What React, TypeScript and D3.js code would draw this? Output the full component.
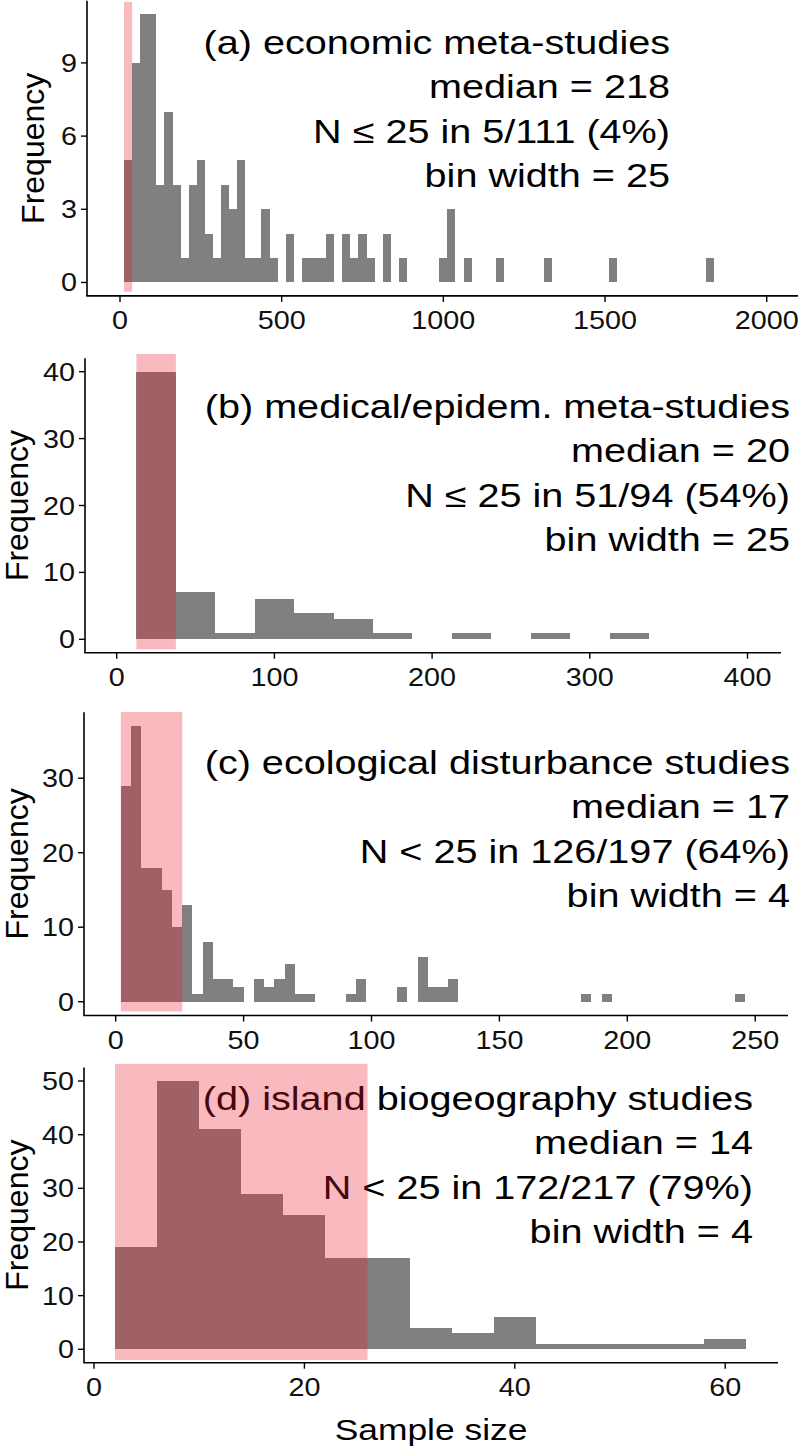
import * as d3 from "d3";

// histogram counts, one per bin
const countsA = [
  5, 9, 11, 11, 4, 7, 4, 1, 4, 5,
  2, 1, 4, 3, 5, 1, 1, 3, 1, 0,
  2, 0, 1, 1, 1, 2, 0, 2, 1, 2,
  1, 0, 2, 0, 1, 0, 0, 0, 0, 1,
  3, 0, 1, 0, 0, 0, 1, 0, 0, 0,
  0, 0, 1, 0, 0, 0, 0, 0, 0, 0,
  1, 0, 0, 0, 0, 0, 0, 0, 0, 0,
  0, 0, 1,
];
const countsB = [40, 7, 1, 6, 4, 3, 1, 0, 1, 0, 1, 0, 1];
const countsC = [
  29, 37, 18, 18, 15, 10, 13, 1, 8, 3,
  3, 2, 0, 3, 2, 3, 5, 1, 1, 0,
  0, 0, 1, 3, 0, 0, 0, 2, 0, 6,
  2, 2, 3, 0, 0, 0, 0, 0, 0, 0,
  0, 0, 0, 0, 0, 1, 0, 1, 0, 0,
  0, 0, 0, 0, 0, 0, 0, 0, 0, 0,
  1,
];
const countsD = [19, 50, 41, 29, 25, 17, 17, 4, 3, 6, 1, 1, 1, 1, 2];

const binStart = [12.5, 12.5, 2, 2];
const binWidth = [25, 25, 4, 4];

// shaded "small sample" region [xmin, xmax, ymin, ymax]
const shadeA = [12.5, 37.5, -0.38, 11.5];
const shadeB = [12.5, 37.5, -1.49, 42.65];
const shadeC = [2, 26, -1.3, 38.9];
const shadeD = [2, 26, -2.0, 53.2];

const xTicksA = [0, 500, 1000, 1500, 2000];
const xTicksB = [0, 100, 200, 300, 400];
const xTicksC = [0, 50, 100, 150, 200, 250];
const xTicksD = [0, 20, 40, 60];
const yTicksA = [0, 3, 6, 9];
const yTicksB = [0, 10, 20, 30, 40];
const yTicksC = [0, 10, 20, 30];
const yTicksD = [0, 10, 20, 30, 40, 50];

const labelsA = ["(a) economic meta-studies", "median = 218", "N \u2264 25 in 5/111 (4%)", "bin width = 25"];
const labelsB = ["(b) medical/epidem. meta-studies", "median = 20", "N \u2264 25 in 51/94 (54%)", "bin width = 25"];
const labelsC = ["(c) ecological disturbance studies", "median = 17", "N < 25 in 126/197 (64%)", "bin width = 4"];
const labelsD = ["(d) island biogeography studies", "median = 14", "N < 25 in 172/217 (79%)", "bin width = 4"];

const FONT = "'Liberation Sans', Arial, sans-serif";
const SX = 1.2; // text in the figure is drawn a bit wide

// layout per panel (pixels)
const panels = [
  { counts: countsA, shade: shadeA, xTicks: xTicksA, yTicks: yTicksA, labels: labelsA,
    top: 0.7, bottom: 295.9, yDom: [-0.55, 11.55], xDom: [0, 2000], xRange: [120, 766.7],
    axisX: 87, axisRight: 798, textRight: 670, textTop: 54, freqX: 44 },
  { counts: countsB, shade: shadeB, xTicks: xTicksB, yTicks: yTicksB, labels: labelsB,
    top: 358.3, bottom: 652.7, yDom: [-2, 42], xDom: [0, 400], xRange: [116.7, 747.5],
    axisX: 85, axisRight: 781, textRight: 790, textTop: 418, freqX: 28 },
  { counts: countsC, shade: shadeC, xTicks: xTicksC, yTicks: yTicksC, labels: labelsC,
    top: 712.3, bottom: 1015.5, yDom: [-1.85, 38.85], xDom: [0, 250], xRange: [115.7, 755.2],
    axisX: 84, axisRight: 788, textRight: 790, textTop: 774, freqX: 28 },
  { counts: countsD, shade: shadeD, xTicks: xTicksD, yTicks: yTicksD, labels: labelsD,
    top: 1067.6, bottom: 1362.7, yDom: [-2.5, 52.5], xDom: [0, 60], xRange: [94, 725.2],
    axisX: 84, axisRight: 778, textRight: 753, textTop: 1110, freqX: 28 },
];

function Panel({ p, i }) {
  const x = d3.scaleLinear().domain(p.xDom).range(p.xRange);
  const y = d3.scaleLinear().domain(p.yDom).range([p.bottom, p.top]);
  const bins = p.counts.map((c, k) => ({
    x0: binStart[i] + k * binWidth[i],
    x1: binStart[i] + (k + 1) * binWidth[i],
    c,
  }));
  const [sx0, sx1, sy0, sy1] = p.shade;
  const midY = (p.top + p.bottom) / 2;

  return (
    <g>
      <g shapeRendering="crispEdges">
        {bins.filter((b) => b.c > 0).map((b, k) => (
          <rect key={k} x={x(b.x0)} y={y(b.c)} width={x(b.x1) - x(b.x0)}
            height={y(0) - y(b.c)} fill="#808080" />
        ))}
      </g>

      {p.labels.map((t, k) => (
        <text key={k} transform={`translate(${p.textRight},${p.textTop + k * 44.4}) scale(${SX},1)`}
          textAnchor="end" fontSize={33} fontFamily={FONT} fill="#000">{t}</text>
      ))}

      <rect x={x(sx0)} y={y(sy1)} width={x(sx1) - x(sx0)} height={y(sy0) - y(sy1)}
        fill="#e8182a" fillOpacity={0.3} />

      {/* axes */}
      <line x1={p.axisX} x2={p.axisX} y1={p.top} y2={p.bottom} stroke="#000" strokeWidth={1.6} />
      <line x1={p.axisX - 0.8} x2={p.axisRight} y1={p.bottom} y2={p.bottom} stroke="#000" strokeWidth={1.6} />
      {p.yTicks.map((t) => (
        <g key={"y" + t}>
          <line x1={p.axisX - 6} x2={p.axisX} y1={y(t)} y2={y(t)} stroke="#000" strokeWidth={1.4} />
          <text transform={`translate(${p.axisX - 10},${y(t) + 9}) scale(1.15,1)`} textAnchor="end"
            fontSize={25} fontFamily={FONT} fill="#111">{t}</text>
        </g>
      ))}
      {p.xTicks.map((t) => (
        <g key={"x" + t}>
          <line x1={x(t)} x2={x(t)} y1={p.bottom} y2={p.bottom + 6} stroke="#000" strokeWidth={1.4} />
          <text transform={`translate(${x(t)},${p.bottom + 33}) scale(1.15,1)`} textAnchor="middle"
            fontSize={25} fontFamily={FONT} fill="#111">{t}</text>
        </g>
      ))}
      <text transform={`translate(${p.freqX},${midY}) rotate(-90)`} textAnchor="middle"
        fontSize={32} fontFamily={FONT} fill="#000">Frequency</text>
    </g>
  );
}

export default function App() {
  const last = panels[3];
  return (
    <svg width={800} height={1448} style={{ position: "absolute", left: 0, top: 0, background: "#fff" }}>
      <rect width={800} height={1448} fill="#fff" />
      {panels.map((p, i) => <Panel key={i} p={p} i={i} />)}
      <text transform={`translate(${(last.axisX + last.axisRight) / 2},1440) scale(1.18,1)`}
        textAnchor="middle" fontSize={30} fontFamily={FONT} fill="#000">Sample size</text>
    </svg>
  );
}
